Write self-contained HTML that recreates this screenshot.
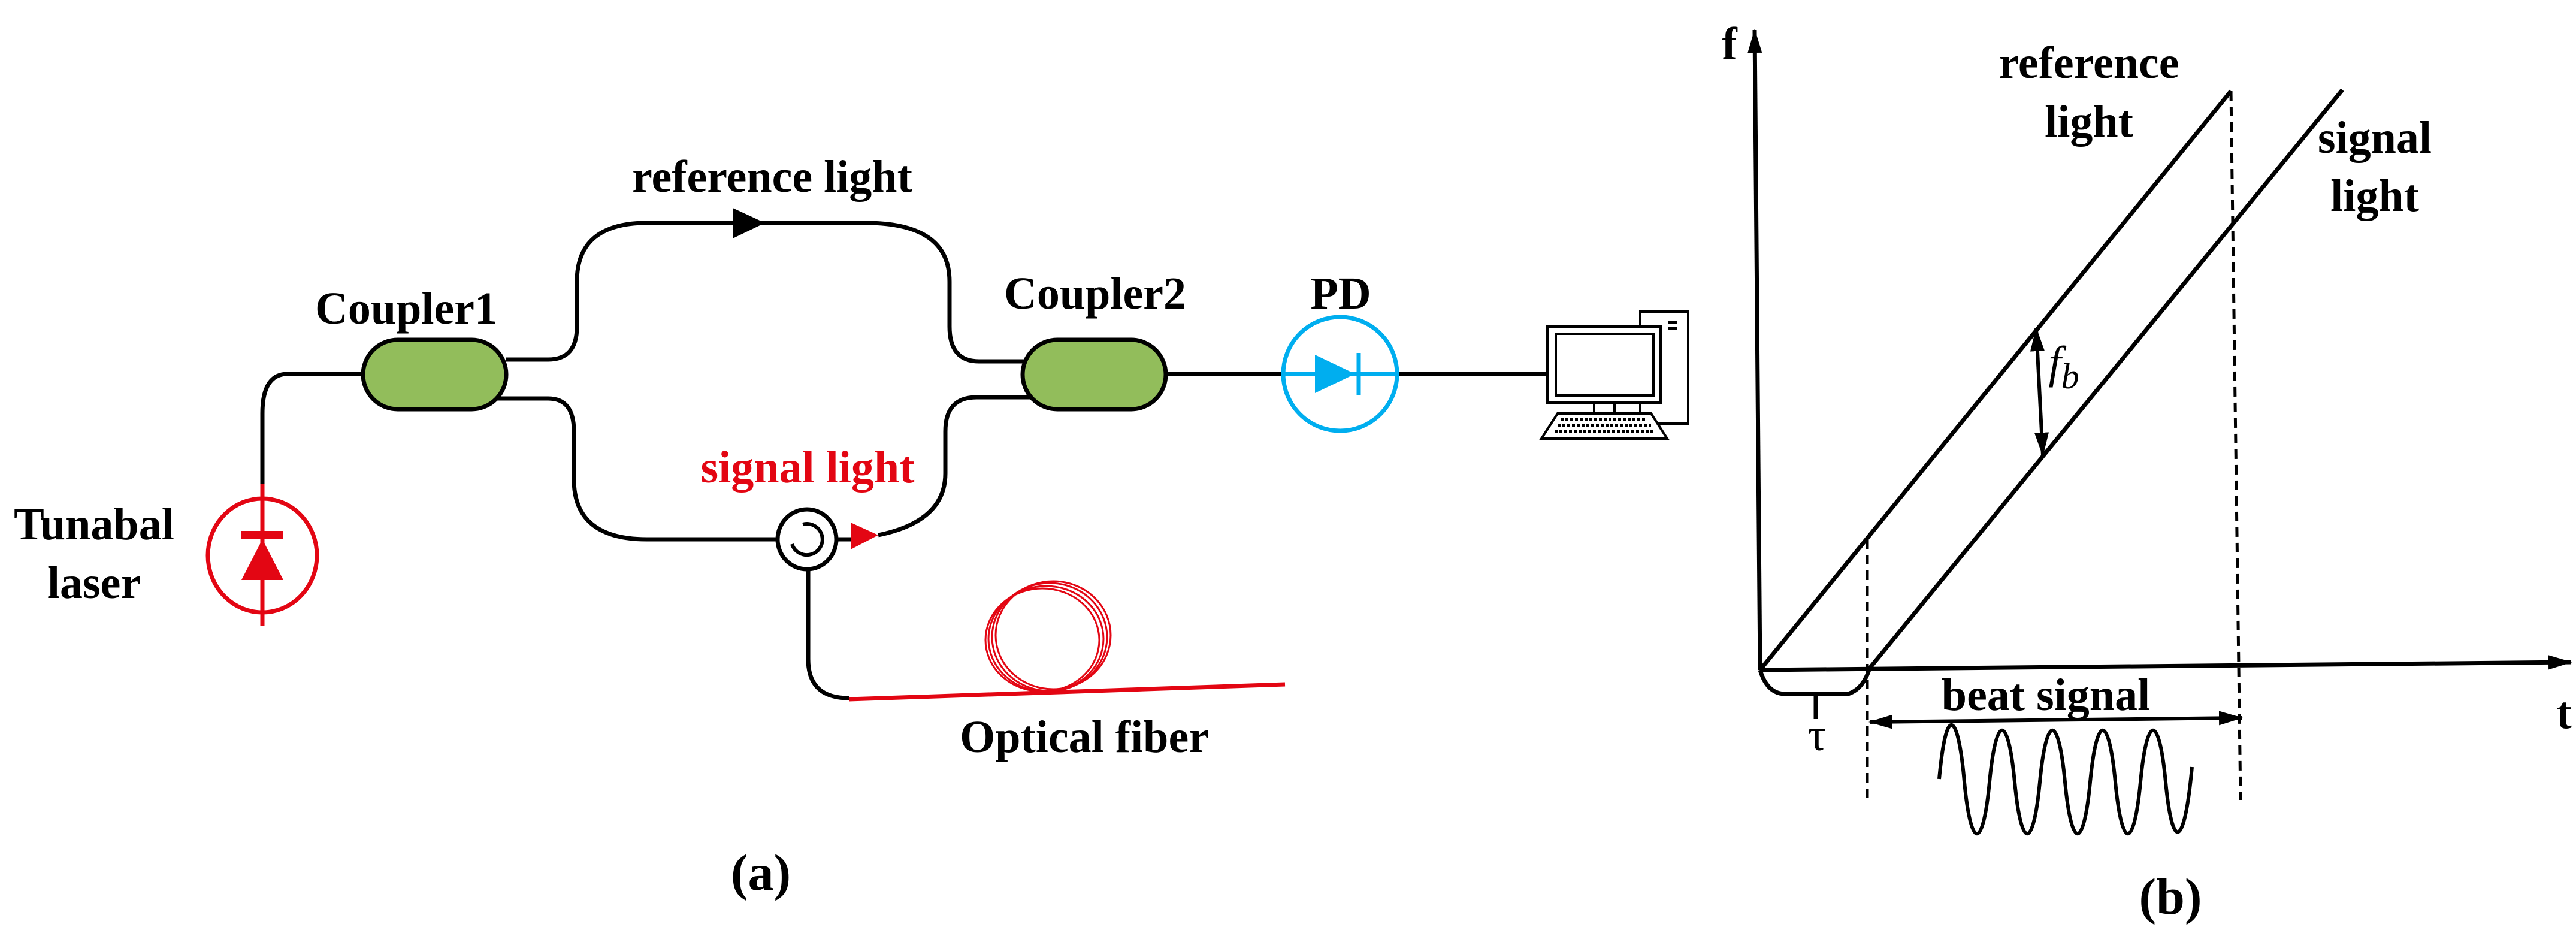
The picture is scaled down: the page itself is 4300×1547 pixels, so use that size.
<!DOCTYPE html>
<html><head><meta charset="utf-8"><style>html,body{margin:0;padding:0;background:#fff}svg{display:block}text{font-family:"Liberation Serif",serif;font-weight:bold;font-size:76px;text-anchor:middle}</style></head>
<body>
<svg width="4300" height="1547" viewBox="0 0 4300 1547" xmlns="http://www.w3.org/2000/svg">
<defs>
<marker id="ah" markerWidth="40" markerHeight="30" refX="38" refY="15" orient="auto-start-reverse" markerUnits="userSpaceOnUse" viewBox="0 0 40 30"><path d="M0,3 L40,15 L0,27 z" fill="#000"/></marker>
</defs>
<!-- Part (a) -->
<g fill="none" stroke="#000" stroke-width="7">
<path d="M438,808 V690 Q438,624 480,624 H606"/>
<path d="M845,600 H915 Q963,600 963,545 V470 Q963,372 1080,372 H1445 Q1585,372 1585,470 V545 Q1585,603 1634,603 H1710"/>
<path d="M828,665 H915 Q958,665 958,720 V800 Q958,900 1080,900 H1300"/>
<path d="M1396,900 H1422"/>
<path d="M1466,893 Q1578,870 1578,790 V720 Q1578,663 1630,663 H1722"/>
<path d="M1946,624 H2140"/>
<path d="M1349,950 V1100 Q1349,1165 1417,1165"/>
</g>
<rect x="606" y="567" width="239" height="116" rx="58" ry="58" fill="#92BD5B" stroke="#000" stroke-width="7"/>
<rect x="1707" y="567" width="239" height="116" rx="58" ry="58" fill="#92BD5B" stroke="#000" stroke-width="7"/>
<path d="M1223,347 L1277,372 L1223,398 z" fill="#000"/>
<!-- circulator -->
<ellipse cx="1347" cy="900" rx="49" ry="50" fill="#fff" stroke="#000" stroke-width="7"/>
<path d="M1340,875 A26,26 0 1 1 1322,908" fill="none" stroke="#000" stroke-width="6"/>
<path d="M1420,872 L1466,893 L1420,917 z" fill="#e30613"/>
<!-- laser -->
<g stroke="#e30613" stroke-width="7" fill="none">
<ellipse cx="438" cy="927" rx="91" ry="95"/>
<path d="M438,808 V1045"/>
<path d="M403,893 H473" stroke-width="14"/>
</g>
<path d="M438,900 L473,968 L403,968 z" fill="#e30613"/>
<!-- fiber -->
<path d="M1417,1167 L2145,1142" stroke="#e30613" stroke-width="7"/>
<g fill="none" stroke="#e30613" stroke-width="3">
<ellipse cx="1758" cy="1060" rx="96" ry="90"/>
<ellipse cx="1752" cy="1063" rx="96" ry="90"/>
<ellipse cx="1746" cy="1066" rx="96" ry="88"/>
<ellipse cx="1740" cy="1068" rx="95" ry="86"/>
</g>
<text x="157" y="900">Tunabal</text>
<text x="157" y="998">laser</text>
<text x="678" y="540">Coupler1</text>
<text x="1828" y="515">Coupler2</text>
<text x="1289" y="320">reference light</text>
<text x="1348" y="805" fill="#e30613">signal light</text>
<text x="1810" y="1255">Optical fiber</text>
<text x="1270" y="1485" style="font-size:86px">(a)</text>
<!-- PD -->
<g stroke="#00AEEF" stroke-width="7" fill="none">
<ellipse cx="2237" cy="624" rx="95" ry="95"/>
<path d="M2140,624 H2335"/>
<path d="M2268,589 V659"/>
</g>
<path d="M2195,592 L2262,624 L2195,656 z" fill="#00AEEF"/>
<path d="M2335,624 H2600" stroke="#000" stroke-width="7"/>
<text x="2238" y="515">PD</text>
<!-- computer -->
<g stroke="#000" stroke-width="4" fill="#fff">
<rect x="2738" y="520" width="80" height="187"/>
<rect x="2583" y="545" width="189" height="127"/>
<rect x="2597" y="557" width="163" height="103"/>
<rect x="2661" y="672" width="34" height="18"/>
<path d="M2600,690 H2756 L2783,732 H2573 z"/>
</g>
<rect x="2785" y="535" width="14" height="5" fill="#000"/>
<rect x="2785" y="546" width="14" height="5" fill="#000"/>
<g stroke="#000" stroke-width="5" stroke-dasharray="5,3">
<path d="M2605,700 H2750"/><path d="M2600,710 H2756"/><path d="M2595,720 H2762"/>
</g>
<!-- Part (b) axes -->
<g fill="none" stroke="#000" stroke-width="7">
<path d="M2938,1118 L2929,50" marker-end="url(#ah)"/>
<path d="M2938,1118 L4292,1105" marker-end="url(#ah)"/>
<path d="M2938,1118 L3724,152"/>
<path d="M3121,1115 L3910,150"/>
<path d="M2938,1118 Q2950,1158 2980,1158 H3085 Q3110,1150 3121,1115"/>
<path d="M3031,1158 V1200"/>
<path d="M3399,548 L3410,760" stroke-width="6" marker-start="url(#ah)" marker-end="url(#ah)"/>
<path d="M3121,1205 L3742,1198" stroke-width="6" marker-start="url(#ah)" marker-end="url(#ah)"/>
</g>
<g fill="none" stroke="#000" stroke-width="5" stroke-dasharray="16,10">
<path d="M3117,900 V1335"/>
<path d="M3724,152 L3740,1335"/>
</g>
<path fill="none" stroke="#000" stroke-width="6" d="M3237,1300 C3250,1160 3270,1200 3279,1305 C3290,1420 3310,1420 3321,1305 C3332,1190 3352,1190 3363,1305 C3374,1420 3394,1420 3405,1305 C3416,1190 3436,1190 3447,1305 C3458,1420 3478,1420 3489,1305 C3500,1190 3520,1190 3531,1305 C3542,1420 3562,1420 3573,1305 C3584,1190 3604,1190 3615,1305 C3626,1420 3646,1420 3659,1280"/>
<text x="2887" y="98">f</text>
<text x="4280" y="1215">t</text>
<text x="3487" y="130">reference</text>
<text x="3487" y="228">light</text>
<text x="3964" y="255">signal</text>
<text x="3964" y="352">light</text>
<text x="3415" y="1185">beat signal</text>
<text x="3033" y="1252" style="font-weight:normal">τ</text>
<text x="3445" y="630" style="font-weight:normal;font-style:italic">f<tspan dy="18" style="font-size:60px">b</tspan></text>
<text x="3623" y="1525" style="font-size:86px">(b)</text>
</svg>
</body></html>
